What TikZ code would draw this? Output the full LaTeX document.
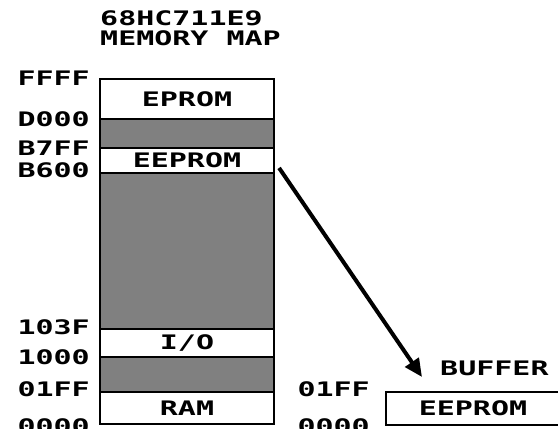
\documentclass[tikz,border=0pt]{standalone}
\usepackage{fontspec}
\newfontfamily\mapfont[FakeStretch=1.5]{DejaVu Sans Mono}
\usetikzlibrary{positioning,arrows.meta}
\begin{document}
\begin{tikzpicture}[x=1pt,y=-1pt,
        every node/.style={inner sep=0pt,font=\mapfont\bfseries\fontsize{20}{20}\selectfont},
        region/.style={draw,line width=1.5pt,minimum width=174pt,outer sep=0pt},
        unused/.style={region,fill=black!50},
        addr/.style={anchor=east}]
    \useasboundingbox (0,0) rectangle (558,429);
    % title
    \node[align=left,anchor=north west] (title) at (100,10) {68HC711E9\\MEMORY MAP};
    % memory map
    \node[region,minimum height=40pt,anchor=north] (eprom) at (187,79) {EPROM};
    \node[unused,minimum height=29pt,below=0pt of eprom] (gapa) {};
    \node[region,minimum height=25pt,below=0pt of gapa] (eeprom) {EEPROM};
    \node[unused,minimum height=156pt,below=0pt of eeprom] (gapb) {};
    \node[region,minimum height=28pt,below=0pt of gapb] (io) {I/O};
    \node[unused,minimum height=35pt,below=0pt of io] (gapc) {};
    \node[region,minimum height=32pt,below=0pt of gapc] (ram) {RAM};
    % addresses
    \node[addr] (ffff) at (90,78) {FFFF};
    \node[addr] (d000) at (90,119) {D000};
    \node[addr] (b7ff) at (90,148) {B7FF};
    \node[addr] (b600) at (90,170) {B600};
    \node[addr] (a103f) at (90,327) {103F};
    \node[addr] (a1000) at (90,357) {1000};
    \node[addr] (a01ff) at (90,389) {01FF};
    \node[addr] (a0000) at (90,426) {0000};
    % buffer
    \node[region,minimum height=33pt,anchor=north west] (buffer) at (386,392) {EEPROM};
    \node[anchor=west] (buflabel) at (440,368) {BUFFER};
    \node[addr] (b01ff) at (370,389) {01FF};
    \node[addr] (b0000) at (370,426) {0000};
    \coordinate (tip) at (422,377);
    \draw[line width=4pt,shorten <=9pt,-{Triangle[length=18pt,width=16pt]}] (eeprom.east) -- (tip);
\end{tikzpicture}
\end{document}
